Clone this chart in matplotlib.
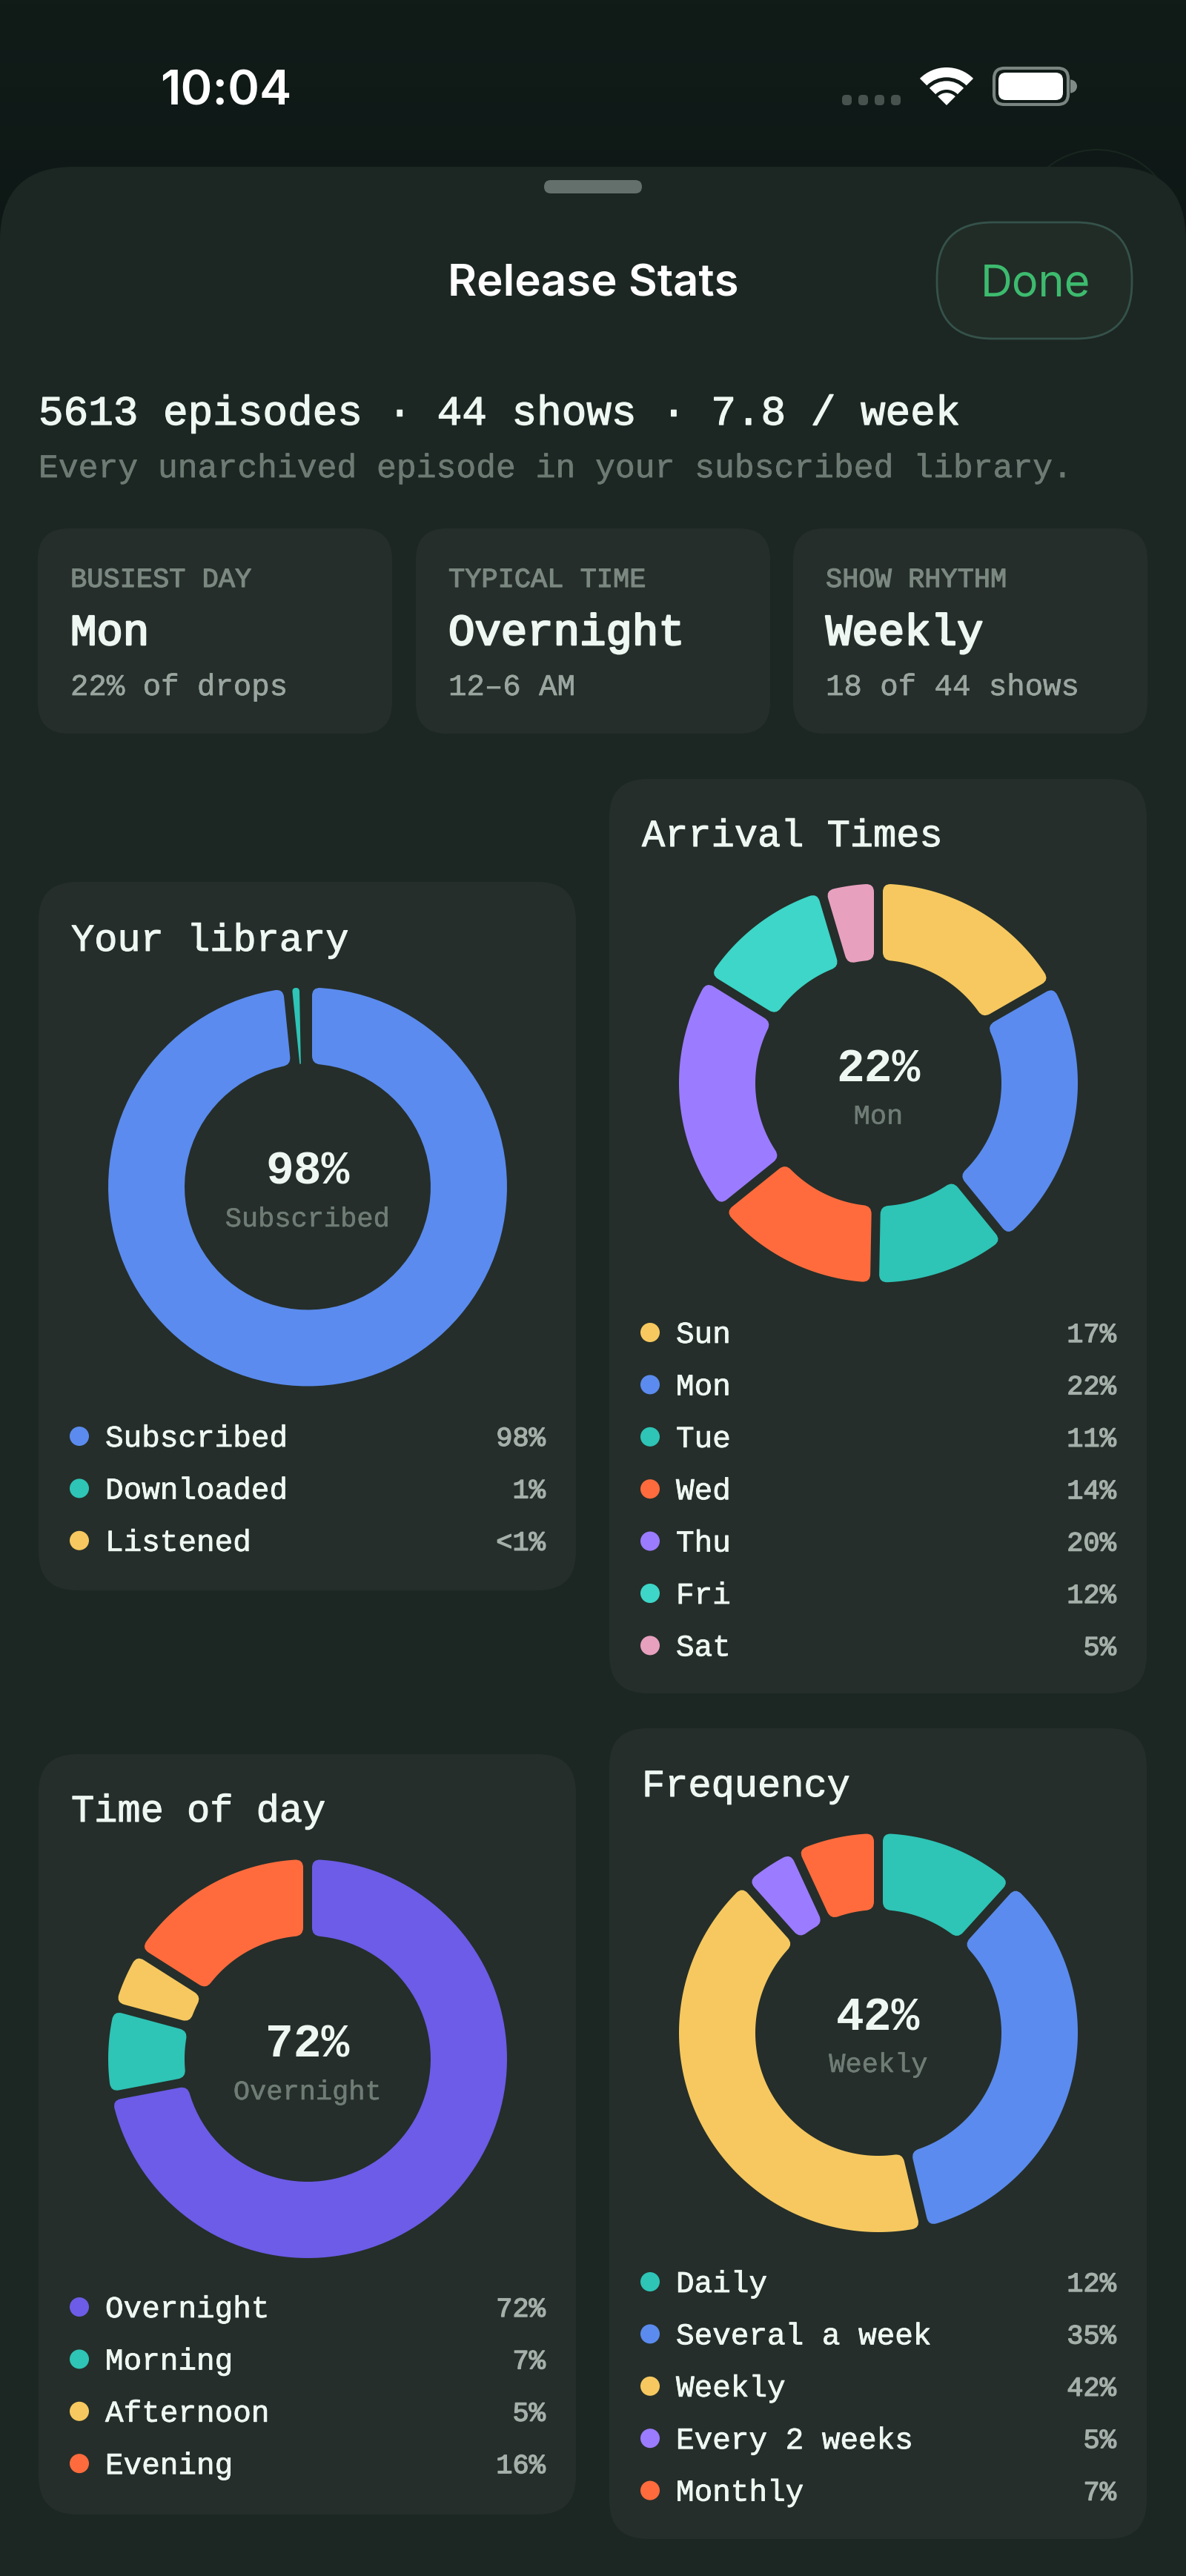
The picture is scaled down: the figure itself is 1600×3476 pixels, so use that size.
import numpy as np
import matplotlib
matplotlib.use('Agg')
import matplotlib.pyplot as plt
import matplotlib.patheffects as pe
from matplotlib.patches import FancyBboxPatch, PathPatch, Wedge, Circle
from matplotlib.path import Path

# values
library_labels = ['Subscribed', 'Downloaded', 'Listened']
library_values = [98.4, 1.3, 0.3]
library_text = ['98%', '1%', '<1%']
library_colors = ['#5b8bee', '#2ec4b6', '#f6c85f']

arrival_labels = ['Sun', 'Mon', 'Tue', 'Wed', 'Thu', 'Fri', 'Sat']
arrival_values = [16.7, 22.4, 11.2, 13.9, 19.6, 11.6, 4.6]
arrival_text = ['17%', '22%', '11%', '14%', '20%', '12%', '5%']
arrival_colors = ['#f6c85f', '#5b8bee', '#2ec4b6', '#ff6b3d', '#9b7bff', '#3dd6c8', '#e8a0bf']

time_labels = ['Overnight', 'Morning', 'Afternoon', 'Evening']
time_values = [72.0, 7.2, 4.8, 16.0]
time_text = ['72%', '7%', '5%', '16%']
time_colors = ['#6c5ce7', '#2ec4b6', '#f6c85f', '#ff6b3d']

freq_labels = ['Daily', 'Several a week', 'Weekly', 'Every 2 weeks', 'Monthly']
freq_values = [11.7, 34.6, 42.1, 4.7, 6.9]
freq_text = ['12%', '35%', '42%', '5%', '7%']
freq_colors = ['#2ec4b6', '#5b8bee', '#f6c85f', '#9b7bff', '#ff6b3d']

stat_heads = ['BUSIEST DAY', 'TYPICAL TIME', 'SHOW RHYTHM']
stat_values = ['Mon', 'Overnight', 'Weekly']
stat_subs = ['22% of drops', '12\u20136 AM', '18 of 44 shows']

MONO = 'Liberation Mono'
SANS = 'Inter'
CARD = '#252e2a'
SHEET = '#1c2622'
WHITE = '#eef7f1'

fig = plt.figure(figsize=(16, 34.76), dpi=100)
ax = fig.add_axes([0, 0, 1, 1])
ax.axis('off')


def put(x, y, s, px, color=WHITE, family=MONO, weight='normal', ha='left', bold=0):
    t = ax.text(x, y, s, fontsize=px * 0.72, color=color, family=family, weight=weight,
                ha=ha, va='baseline', zorder=6)
    if bold:
        t.set_path_effects([pe.withStroke(linewidth=bold, foreground=color)])
    return t


def box(x0, y0, x1, y1, rad, face, edge='none', lw=0, z=2):
    ax.add_patch(FancyBboxPatch((x0, y0), x1 - x0, y1 - y0, boxstyle=f'round,pad=0,rounding_size={rad}',
                                fc=face, ec=edge, lw=lw, zorder=z))


def ring_segment(cx, cy, a0, a1, color, R=269, r=166, half_gap=6, corner=11):
    # a0, a1 in degrees clockwise from 12 o'clock
    def pt(rho, ang):
        t = np.radians(ang)
        return cx + rho * np.sin(t), cy - rho * np.cos(t)

    def edge0(rho):
        return a0 + np.degrees(np.arcsin(half_gap / rho))

    def edge1(rho):
        return a1 - np.degrees(np.arcsin(half_gap / rho))

    w_out = np.radians(edge1(R) - edge0(R)) * R
    w_in = np.radians(edge1(r) - edge0(r)) * r
    if w_out <= 0:
        return
    w_in = max(w_in, 0.2)
    t_out = min(corner, w_out / 2)
    t_in = min(corner, w_in / 2)

    verts = [pt(R - t_out, edge0(R - t_out))]
    codes = [Path.MOVETO]

    def curve(ctrl, end):
        verts.extend([ctrl, end])
        codes.extend([Path.CURVE3, Path.CURVE3])

    def line(points):
        verts.extend(points)
        codes.extend([Path.LINETO] * len(points))

    out_arc = np.linspace(edge0(R) + np.degrees(t_out / R), edge1(R) - np.degrees(t_out / R), 120)
    in_arc = np.linspace(edge1(r) - np.degrees(t_in / r), edge0(r) + np.degrees(t_in / r), 80)

    curve(pt(R, edge0(R)), pt(R, out_arc[0]))
    line([pt(R, a) for a in out_arc[1:]])
    curve(pt(R, edge1(R)), pt(R - t_out, edge1(R - t_out)))
    line([pt(r + t_in, edge1(r + t_in))])
    curve(pt(r, edge1(r)), pt(r, in_arc[0]))
    line([pt(r, a) for a in in_arc[1:]])
    curve(pt(r, edge0(r)), pt(r + t_in, edge0(r + t_in)))
    verts.append(verts[0])
    codes.append(Path.CLOSEPOLY)
    ax.add_patch(PathPatch(Path(verts, codes), fc=color, ec='none', lw=0, zorder=4))


def donut_card(x0, top, base, cy, row0, bottom, title, labels, values, text, colors, big, sub, big_y):
    x1 = x0 + 725
    cx = x0 + 363
    rows = row0 + 70.4 * np.arange(len(labels))
    box(x0, top, x1, bottom, 52, CARD)
    put(x0 + 44, base, title, 52, bold=0.8)

    edges = np.cumsum([0] + list(values)) / sum(values) * 360
    for a0, a1, c in zip(edges[:-1], edges[1:], colors):
        ring_segment(cx, cy, a0, a1, c)

    put(cx, big_y, big, 63, ha='center', weight='bold')
    put(cx, big_y + 57, sub, 37, color='#6f7c76', ha='center', bold=0.4)

    for y, lab, s, c in zip(rows, labels, text, colors):
        ax.add_patch(Circle((x0 + 55, y), 13, fc=c, ec='none', zorder=4))
        put(x0 + 90, y + 14, lab, 41, bold=0.6)
        put(x1 - 41, y + 13, s, 37, color='#a6b0ab', ha='right', bold=1.0)


# background
grad = np.linspace(0, 1, 64).reshape(-1, 1)
top_c = np.array(matplotlib.colors.to_rgb('#111c19'))
bot_c = np.array(matplotlib.colors.to_rgb('#0e1715'))
ax.imshow(top_c + grad[..., None] * (bot_c - top_c), extent=[0, 1600, 340, 0], aspect='auto', zorder=0)
ax.set_xlim(0, 1600)
ax.set_ylim(3476, 0)
ax.add_patch(Circle((1480, 307), 105, fc='none', ec='#18261f', lw=1.5, zorder=1))

# sheet
box(0, 225, 1600, 3700, 100, SHEET, z=1.5)
box(734, 243, 866, 261, 9, '#64706c', z=3)

# status bar
put(305, 141, '10:04', 65, color='white', family=SANS, weight='semibold', ha='center')
for i in range(4):
    box(1136 + 22 * i, 128, 1149 + 22 * i, 142, 5, '#47524f', z=3)
for rout, rin in [(51, 37.7), (32.7, 21), (16.7, 0)]:
    ax.add_patch(Wedge((1277, 142), rout, 225, 315, width=rout - rin, fc='white', ec='none', zorder=3))
box(1341, 92, 1441, 141, 14, 'none', edge='#7a8480', lw=3, z=3)
box(1347, 98, 1434, 135, 10, 'white', z=3)
ax.add_patch(Wedge((1444, 116.5), 9, -90, 90, fc='#7f8a86', ec='none', zorder=2.5))

# header
put(800, 399, 'Release Stats', 60, color='white', family=SANS, weight='semibold', ha='center')
box(1264, 300, 1527, 457, 75, '#212c27', edge='#35524a', lw=2)
put(1397, 400, 'Done', 59.5, color='#3dbb6e', family=SANS, ha='center')

put(52, 573, '5613 episodes \u00b7 44 shows \u00b7 7.8 / week', 56, bold=1)
put(52, 644, 'Every unarchived episode in your subscribed library.', 44.7, color='#6d7a74', bold=0.5)

for x0, head, val, sub in zip([51, 561, 1070], stat_heads, stat_values, stat_subs):
    box(x0, 713, x0 + 478, 990, 42, CARD)
    put(x0 + 44, 792, head, 37, color='#7b8781', bold=0.9)
    put(x0 + 44, 870, val, 59, bold=1.8)
    put(x0 + 44, 938, sub, 40.7, color='#9aa5a0', bold=0.5)

donut_card(52, 1190, 1283, 1601.5, 1938, 2146, 'Your library', library_labels, library_values, library_text, library_colors, '98%', 'Subscribed', 1598)
donut_card(822, 1051, 1142, 1461.5, 1798, 2285, 'Arrival Times', arrival_labels, arrival_values, arrival_text, arrival_colors, '22%', 'Mon', 1459.5)
donut_card(52, 2367, 2458, 2778, 3113, 3393, 'Time of day', time_labels, time_values, time_text, time_colors, '72%', 'Overnight', 2776)
donut_card(822, 2332, 2424, 2743, 3079, 3426, 'Frequency', freq_labels, freq_values, freq_text, freq_colors, '42%', 'Weekly', 2739)

fig.savefig('out.png', dpi=100, facecolor=SHEET)
